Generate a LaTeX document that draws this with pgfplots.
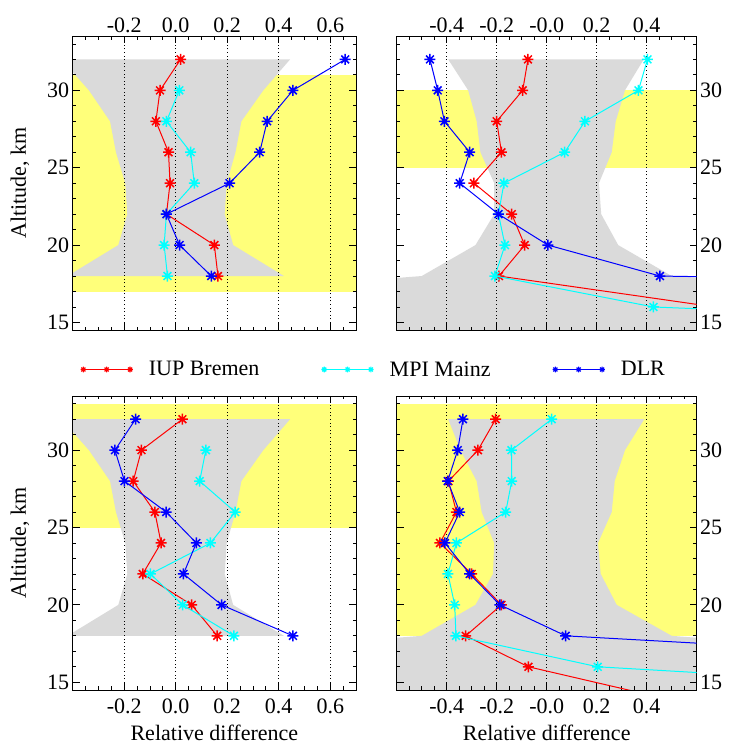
\documentclass[border=0pt]{standalone}
\usepackage{fontspec}
\setmainfont{Liberation Serif}
\usepackage{pgfplots}
\pgfplotsset{compat=1.18}

\definecolor{yel}{RGB}{255,255,122}
\definecolor{gry}{RGB}{218,218,218}
\definecolor{cyn}{RGB}{0,255,255}

\pgfdeclareplotmark{idlast}{%
  \pgfpathmoveto{\pgfqpoint{-\pgfplotmarksize}{0pt}}\pgfpathlineto{\pgfqpoint{\pgfplotmarksize}{0pt}}%
  \pgfpathmoveto{\pgfqpoint{0pt}{-\pgfplotmarksize}}\pgfpathlineto{\pgfqpoint{0pt}{\pgfplotmarksize}}%
  \pgfpathmoveto{\pgfqpoint{-.7071\pgfplotmarksize}{-.7071\pgfplotmarksize}}\pgfpathlineto{\pgfqpoint{.7071\pgfplotmarksize}{.7071\pgfplotmarksize}}%
  \pgfpathmoveto{\pgfqpoint{-.7071\pgfplotmarksize}{.7071\pgfplotmarksize}}\pgfpathlineto{\pgfqpoint{.7071\pgfplotmarksize}{-.7071\pgfplotmarksize}}%
  \pgfusepathqstroke}

\newcommand{\bigf}{\fontsize{22}{26}\selectfont}

\pgfplotsset{
  panel/.style={
    scale only axis, height=294pt, ymin=14.5, ymax=33.5,
    ytick={15,20,25,30}, minor ytick={15,16,...,33},
    tick align=inside, major tick length=7pt, minor tick length=3.5pt,
    xtick pos=both, ytick pos=both,
    xmajorgrids, major grid style={black, line width=1pt, dash pattern=on 1pt off 2.6pt},
    axis line style={line width=0.8pt},
    every tick/.style={black, line width=0.8pt},
    set layers, clip mode=individual,
    tick label style={font=\bigf},
    /pgf/number format/assume math mode=true,
    every axis y label/.style={at={(axis description cs:-0.165,0.5)}, rotate=90, anchor=base, font=\bigf},
    every axis x label/.style={at={(axis description cs:0.5,0)}, anchor=base, yshift=-50.7pt, font=\bigf},
  },
  leftp/.style={xmin=-0.4, xmax=0.7, width=283.3pt,
    xtick={-0.2,0,0.2,0.4,0.6}, xticklabels={-0.2,0.0,0.2,0.4,0.6},
    minor xtick={-0.35,-0.3,-0.25,-0.15,-0.1,-0.05,0.05,0.1,0.15,0.25,0.3,0.35,0.45,0.5,0.55,0.65}},
  rightp/.style={xmin=-0.6, xmax=0.6, width=300pt,
    xtick={-0.4,-0.2,0,0.2,0.4}, xticklabels={-0.4,-0.2,-0.0,0.2,0.4},
    minor xtick={-0.55,-0.5,-0.45,-0.35,-0.3,-0.25,-0.15,-0.1,-0.05,0.05,0.1,0.15,0.25,0.3,0.35,0.45,0.5,0.55},
    yticklabel pos=upper},
  bg/.style={forget plot, draw=none, on layer=axis background},
  ser/.style={line width=1pt, mark=idlast, mark size=5.5pt, mark options={line width=1.5pt, solid}},
  iup/.style={ser, red},
  mpi/.style={ser, cyn},
  dlr/.style={ser, blue},
}

\begin{document}
\begin{tikzpicture}

% ---------------- top left
\begin{axis}[panel, leftp, at={(72.7pt,415.8pt)}, anchor=south west,
  xticklabel pos=upper, ylabel={Altitude, km},
  legend columns=3,
  legend image code/.code={\draw[#1, mark size=2.8pt, mark options={line width=1.1pt}] plot coordinates {(0pt,0pt) (23.3pt,0pt) (46.7pt,0pt)};},
  legend style={at={(axis description cs:0.027,-0.1337)}, anchor=west, draw=none, fill=none,
    font=\bigf, inner sep=0pt,
    /tikz/every odd column/.style={column sep=14pt},
    /tikz/every even column/.style={column sep=60pt}},
]
\addplot[bg, fill=yel] coordinates {(-1,17) (1,17) (1,31) (-1,31)};
\addplot[bg, fill=gry] coordinates {(-0.42,18) (-0.223,20) (-0.188,22) (-0.196,24) (-0.232,26) (-0.255,28) (-0.337,30) (-0.444,32) (0.444,32) (0.34,30) (0.255,28) (0.232,26) (0.198,24) (0.19,22) (0.223,20) (0.42,18)};
\addplot[iup] coordinates {(0.019,32) (-0.061,30) (-0.077,28) (-0.028,26) (-0.022,24) (-0.036,22) (0.150,20) (0.164,18)};
\addlegendentry{IUP Bremen}
\addplot[mpi] coordinates {(0.014,30) (-0.036,28) (0.058,26) (0.072,24) (-0.036,22) (-0.045,20) (-0.032,18)};
\addlegendentry{MPI Mainz}
\addplot[dlr] coordinates {(0.658,32) (0.455,30) (0.355,28) (0.326,26) (0.209,24) (-0.036,22) (0.015,20) (0.138,18)};
\addlegendentry{DLR}
\end{axis}

% ---------------- top right
\begin{axis}[panel, rightp, at={(396.7pt,415.8pt)}, anchor=south west,
  xticklabel pos=upper]
\addplot[bg, fill=yel] coordinates {(-1,25) (1,25) (1,30) (-1,30)};
\addplot[bg, fill=gry] coordinates {(-0.7,14) (-0.7,17.75) (-0.5,18) (-0.285,20) (-0.21,22) (-0.21,24) (-0.265,26) (-0.28,28) (-0.314,30) (-0.394,32) (0.388,32) (0.313,30) (0.276,28) (0.26,26) (0.209,24) (0.218,22) (0.286,20) (0.5,18) (0.7,17.75) (0.7,14)};
\addplot[iup] coordinates {(-0.075,32) (-0.096,30) (-0.200,28) (-0.181,26) (-0.291,24) (-0.140,22) (-0.088,20) (-0.191,18) (0.673,16)};
\addplot[mpi] coordinates {(0.403,32) (0.367,30) (0.153,28) (0.072,26) (-0.171,24) (-0.193,22) (-0.167,20) (-0.207,18) (0.427,16) (3.5,14)};
\addplot[dlr] coordinates {(-0.467,32) (-0.436,30) (-0.409,28) (-0.308,26) (-0.348,24) (-0.193,22) (0.005,20) (0.453,18) (7.8,16)};
\end{axis}

% ---------------- bottom left
\begin{axis}[panel, leftp, at={(72.7pt,56pt)}, anchor=south west,
  ylabel={Altitude, km}, xlabel={Relative difference},
  xticklabel style={yshift=-5.5pt}]
\addplot[bg, fill=yel] coordinates {(-1,25) (1,25) (1,33) (-1,33)};
\addplot[bg, fill=gry] coordinates {(-0.42,18) (-0.223,20) (-0.188,22) (-0.196,24) (-0.232,26) (-0.255,28) (-0.337,30) (-0.444,32) (0.444,32) (0.34,30) (0.255,28) (0.232,26) (0.198,24) (0.19,22) (0.223,20) (0.42,18)};
\addplot[iup] coordinates {(0.026,32) (-0.133,30) (-0.165,28) (-0.081,26) (-0.057,24) (-0.128,22) (0.062,20) (0.161,18)};
\addplot[mpi] coordinates {(0.117,30) (0.093,28) (0.231,26) (0.135,24) (-0.098,22) (0.027,20) (0.226,18)};
\addplot[dlr] coordinates {(-0.156,32) (-0.236,30) (-0.199,28) (-0.037,26) (0.080,24) (0.030,22) (0.178,20) (0.455,18)};
\end{axis}

% ---------------- bottom right
\begin{axis}[panel, rightp, at={(396.7pt,56pt)}, anchor=south west,
  xlabel={Relative difference},
  xticklabel style={yshift=-5.5pt}]
\addplot[bg, fill=yel] coordinates {(-1,18) (1,18) (1,33) (-1,33)};
\addplot[bg, fill=gry] coordinates {(-0.7,14) (-0.7,17.75) (-0.5,18) (-0.285,20) (-0.215,22) (-0.21,24) (-0.26,26) (-0.28,28) (-0.345,30) (-0.394,32) (0.39,32) (0.313,30) (0.272,28) (0.26,26) (0.205,24) (0.216,22) (0.28,20) (0.5,18) (0.7,17.75) (0.7,14)};
\addplot[iup] coordinates {(-0.204,32) (-0.275,30) (-0.393,28) (-0.361,26) (-0.427,24) (-0.300,22) (-0.181,20) (-0.324,18) (-0.073,16) (0.46,14)};
\addplot[mpi] coordinates {(0.020,32) (-0.141,30) (-0.140,28) (-0.164,26) (-0.361,24) (-0.395,22) (-0.368,20) (-0.363,18) (0.204,16) (2.34,14)};
\addplot[dlr] coordinates {(-0.335,32) (-0.356,30) (-0.396,28) (-0.348,26) (-0.407,24) (-0.308,22) (-0.187,20) (0.076,18) (2.3,16)};
\end{axis}

\pgfresetboundingbox
\useasboundingbox (0pt,0pt) rectangle (729pt,746pt);
\end{tikzpicture}
\end{document}
